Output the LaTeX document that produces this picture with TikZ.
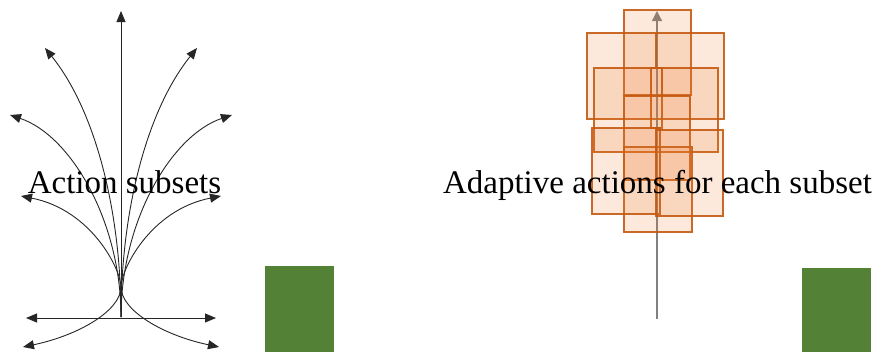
\documentclass[tikz,border=0pt]{standalone}
\usepackage{fontspec}
\setmainfont{Liberation Serif}
\usepackage{tikz}
\usetikzlibrary{arrows.meta}
\usepackage{xcolor}
\definecolor{boxfill}{HTML}{ED7D31}
\definecolor{boxline}{HTML}{C55A11}
\definecolor{agent}{HTML}{538135}

\begin{document}
\begin{tikzpicture}[x=1pt,y=-1pt,
        >={Triangle[length=11pt,width=9pt]},
        act/.style={draw=black!85,line width=0.9pt,->},
        subedge/.style={draw=boxline,line width=1.1pt,draw opacity=0.9},
        subbox/.style={subedge,fill=boxfill,fill opacity=0.17},
        caption/.style={anchor=base,font=\fontsize{33}{40}\selectfont}]
    \useasboundingbox (0,0) rectangle (873,356);

    \coordinate (root)   at (121,317);
    \coordinate (cross)  at (121,287);
    \coordinate (up)     at (121,11);
    \coordinate (far-l)  at (45,48);
    \coordinate (far-r)  at (197,48);
    \coordinate (wide-l) at (10,115);
    \coordinate (wide-r) at (232,115);
    \coordinate (mid-l)  at (21,196);
    \coordinate (mid-r)  at (221,196);
    \coordinate (flat-l) at (26,318);
    \coordinate (flat-r) at (216,318);
    \coordinate (low-l)  at (23,347);
    \coordinate (low-r)  at (219,347);

    \draw[act] (root) -- (up);
    \draw[act,<->] (flat-l) -- (flat-r);
    \draw[act] (root) .. controls (121,210) and (95,110) .. (far-l);
    \draw[act] (root) .. controls (121,210) and (147,110) .. (far-r);
    \draw[act] (root) .. controls (121,220) and (70,135) .. (wide-l);
    \draw[act] (root) .. controls (121,220) and (172,135) .. (wide-r);
    \draw[act,<->] (low-l) .. controls (80,335) and (121,310) .. (cross) .. controls (121,270) and (150,210) .. (mid-r);
    \draw[act,<->] (low-r) .. controls (162,335) and (121,310) .. (cross) .. controls (121,270) and (92,210) .. (mid-l);

    \coordinate (base) at (657,319);
    \coordinate (aim)  at (657,11);
    \draw[draw=gray,line width=1.2pt,-{Triangle[length=10pt,width=10pt]}] (base) -- (aim);

    \draw[subbox] (624,10) rectangle (691,95);
    \draw[subbox] (587,33) rectangle (724,119);
    \draw[subedge] (656,33) -- (656,68);
    \draw[subbox] (594,68) rectangle (718,152);
    \draw[subedge] (651,68) rectangle (662,128);
    \draw[subbox] (624,96) rectangle (690,180);
    \draw[subbox] (624,147) rectangle (692,232);
    \draw[subbox] (592,128) rectangle (660,214);
    \draw[subbox] (656,130) rectangle (723,216);

    \fill[agent] (265,266) rectangle (334,352);
    \fill[agent] (802,268) rectangle (871,352);

    \node[caption] (lbl-subsets)  at (124.5,193) {Action subsets};
    \node[caption] (lbl-adaptive) at (657.5,193) {Adaptive actions for each subset};
\end{tikzpicture}
\end{document}
